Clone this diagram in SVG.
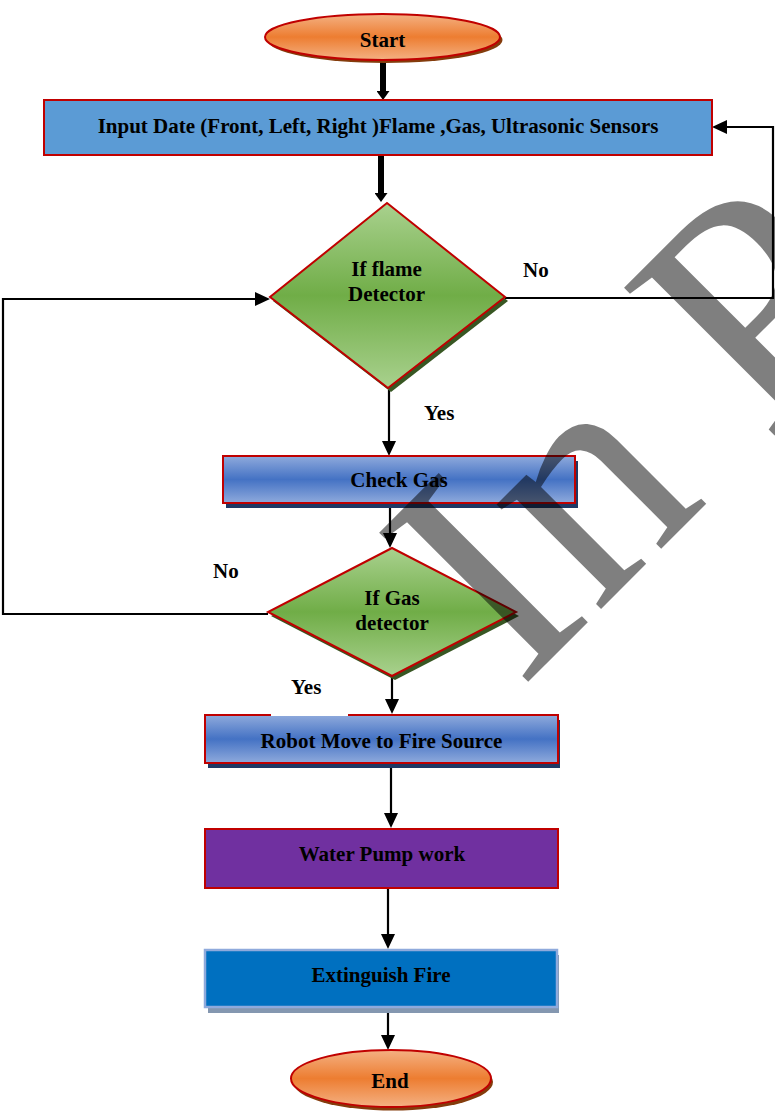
<svg xmlns="http://www.w3.org/2000/svg" width="775" height="1113" viewBox="0 0 775 1113">
<style>
.t{font-family:"Liberation Serif","Times New Roman",serif;font-weight:bold;font-size:21px;fill:#000;text-anchor:middle}
.lbl{font-family:"Liberation Serif","Times New Roman",serif;font-weight:bold;font-size:21px;fill:#000}
.red{stroke:#C00000;stroke-width:2}
.ln{fill:none;stroke:#000;stroke-width:2.2;marker-end:url(#ah)}
.thick{fill:none;stroke:#000;stroke-width:6;marker-end:url(#ahT)}
</style>
<defs>
<linearGradient id="gOrange" x1="0" y1="0" x2="0" y2="1"><stop offset="0" stop-color="#F4B183"/><stop offset="0.5" stop-color="#ED7D31"/><stop offset="1" stop-color="#F4B183"/></linearGradient>
<linearGradient id="gGreen" x1="0" y1="0" x2="0" y2="1"><stop offset="0" stop-color="#A9D18E"/><stop offset="0.5" stop-color="#70AD47"/><stop offset="1" stop-color="#A9D18E"/></linearGradient>
<linearGradient id="gBlue" x1="0" y1="0" x2="0" y2="1"><stop offset="0" stop-color="#8FAADC"/><stop offset="0.5" stop-color="#4472C4"/><stop offset="1" stop-color="#8FAADC"/></linearGradient>
<marker id="ah" markerUnits="userSpaceOnUse" markerWidth="15" markerHeight="14" refX="0" refY="7" orient="auto"><path d="M0,0 L15,7 L0,14 z" fill="#000"/></marker>
<marker id="ahT" markerUnits="userSpaceOnUse" markerWidth="9" markerHeight="13" refX="0" refY="6.5" orient="auto"><path d="M0,0 L9,6.5 L0,13 z" fill="#000"/></marker>
</defs>
<rect width="775" height="1113" fill="#fff"/>

<g id="connectors">
<path class="thick" d="M383,60 V91"/>
<path class="thick" d="M381,156 V193"/>
<path class="ln" d="M505,298 H773 V127 H727"/>
<path class="ln" d="M389,390 V441"/>
<path class="ln" d="M390,503 V533"/>
<path class="ln" d="M268,614 H3 V299 H255"/>
<path class="ln" d="M392,676 V699"/>
<path class="ln" d="M391,764 V813"/>
<path class="ln" d="M388,888 V934"/>
<path class="ln" d="M388,1008 V1035"/>
</g>

<g id="start">
<ellipse cx="385" cy="40" rx="117.5" ry="23" fill="#843C0C"/>
<ellipse class="red" cx="382.5" cy="37" rx="117.5" ry="23" fill="url(#gOrange)"/>
<text class="t" x="382.5" y="47">Start</text>
</g>

<g id="input">
<rect class="red" x="44" y="100" width="668" height="55" fill="#5B9BD5"/>
<text class="t" x="378" y="133">Input Date (Front, Left, Right )Flame ,Gas, Ultrasonic Sensors</text>
</g>

<g id="flame">
<polygon points="390,207 508,301 391,392 273,301" fill="#385723"/>
<polygon class="red" points="387,203 505,297 388,388 270,297" fill="url(#gGreen)"/>
<text class="t" x="386.5" y="276">If flame</text>
<text class="t" x="386.5" y="301">Detector</text>
</g>

<g id="checkgas">
<rect x="226" y="461" width="352" height="47" fill="#1F3864"/>
<rect class="red" x="223" y="456" width="352" height="47" fill="url(#gBlue)"/>
<text class="t" x="399" y="487">Check Gas</text>
</g>

<g id="gas">
<polygon points="395,552 519,616 395,680 271,616" fill="#385723"/>
<polygon class="red" points="392,548 516,612 392,676 268,612" fill="url(#gGreen)"/>
<text class="t" x="392" y="605">If Gas</text>
<text class="t" x="392" y="630">detector</text>
</g>

<g id="robot">
<rect x="208" y="720" width="352" height="48" fill="#1F3864"/>
<rect class="red" x="205" y="715" width="353" height="48" fill="url(#gBlue)"/>
<text class="t" x="381.5" y="748">Robot Move to Fire Source</text>
</g>

<g id="pump">
<rect class="red" x="205" y="829" width="353" height="59" fill="#7030A0"/>
<text class="t" x="382" y="861">Water Pump work</text>
</g>

<g id="extinguish">
<rect x="208" y="955" width="351" height="58" fill="#8497B0"/>
<rect x="205" y="950" width="352" height="57" fill="#0070C0" stroke="#8FAADC" stroke-width="2.5"/>
<text class="t" x="381" y="982">Extinguish Fire</text>
</g>

<g id="end">
<ellipse cx="393" cy="1082" rx="100" ry="28.5" fill="#843C0C"/>
<ellipse class="red" cx="391" cy="1078.5" rx="100" ry="28.5" fill="url(#gOrange)"/>
<text class="t" x="390" y="1088">End</text>
</g>

<g id="labels">
<text class="lbl" x="523" y="277">No</text>
<text class="lbl" x="424" y="420">Yes</text>
<text class="lbl" x="213" y="578">No</text>
<rect x="271" y="713" width="77" height="3" fill="#fff"/>
<text class="lbl" x="291" y="694">Yes</text>
</g>

<g id="watermark">
<text x="0" y="0" transform="translate(520,690) rotate(-45)" font-family="Liberation Serif, Times New Roman, serif" font-size="322" fill="#000" fill-opacity="0.5">In P</text>
</g>
</svg>
